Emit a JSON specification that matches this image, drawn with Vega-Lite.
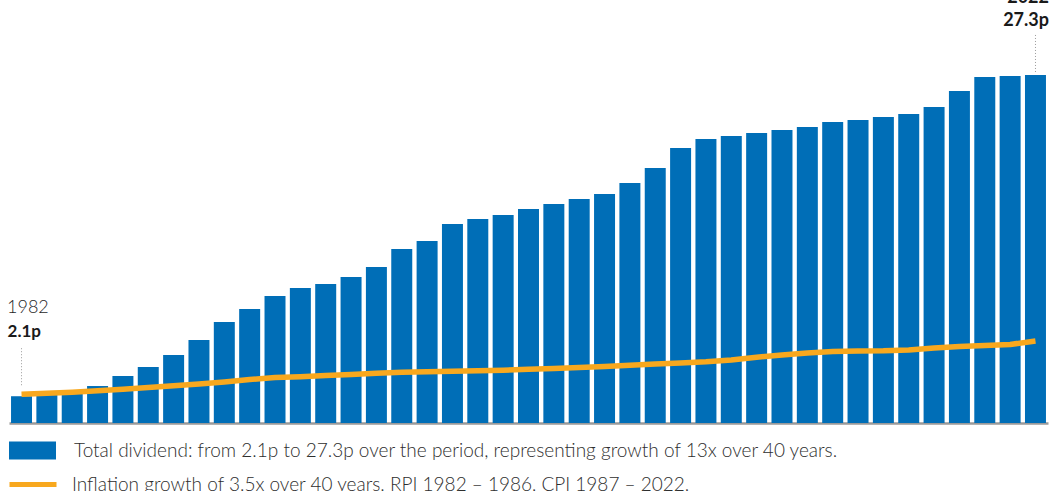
{
  "$schema": "https://vega.github.io/schema/vega-lite/v6.json",
  "autosize": {"type": "none"},
  "padding": {"left": 9, "right": 2, "top": 0, "bottom": 68},
  "width": 1039,
  "height": 423,
  "background": "white",
  "config": {"view": {"stroke": null}, "font": "Lato"},
  "data": {"values": [
    {"year": 1982, "dividend": 2.1, "inflation": 2.25},
    {"year": 1983, "dividend": 2.2, "inflation": 2.33},
    {"year": 1984, "dividend": 2.45, "inflation": 2.42},
    {"year": 1985, "dividend": 2.9, "inflation": 2.53},
    {"year": 1986, "dividend": 3.69, "inflation": 2.65},
    {"year": 1987, "dividend": 4.39, "inflation": 2.78},
    {"year": 1988, "dividend": 5.33, "inflation": 2.92},
    {"year": 1989, "dividend": 6.51, "inflation": 3.06},
    {"year": 1990, "dividend": 7.92, "inflation": 3.22},
    {"year": 1991, "dividend": 8.94, "inflation": 3.41},
    {"year": 1992, "dividend": 9.96, "inflation": 3.57},
    {"year": 1993, "dividend": 10.59, "inflation": 3.63},
    {"year": 1994, "dividend": 10.9, "inflation": 3.72},
    {"year": 1995, "dividend": 11.45, "inflation": 3.8},
    {"year": 1996, "dividend": 12.24, "inflation": 3.9},
    {"year": 1997, "dividend": 13.65, "inflation": 3.98},
    {"year": 1998, "dividend": 14.28, "inflation": 4.02},
    {"year": 1999, "dividend": 15.61, "inflation": 4.06},
    {"year": 2000, "dividend": 16.0, "inflation": 4.1},
    {"year": 2001, "dividend": 16.32, "inflation": 4.14},
    {"year": 2002, "dividend": 16.79, "inflation": 4.21},
    {"year": 2003, "dividend": 17.18, "inflation": 4.28},
    {"year": 2004, "dividend": 17.57, "inflation": 4.36},
    {"year": 2005, "dividend": 17.96, "inflation": 4.43},
    {"year": 2006, "dividend": 18.83, "inflation": 4.53},
    {"year": 2007, "dividend": 20.0, "inflation": 4.63},
    {"year": 2008, "dividend": 21.57, "inflation": 4.71},
    {"year": 2009, "dividend": 22.28, "inflation": 4.8},
    {"year": 2010, "dividend": 22.52, "inflation": 4.94},
    {"year": 2011, "dividend": 22.75, "inflation": 5.16},
    {"year": 2012, "dividend": 22.99, "inflation": 5.33},
    {"year": 2013, "dividend": 23.22, "inflation": 5.49},
    {"year": 2014, "dividend": 23.61, "inflation": 5.61},
    {"year": 2015, "dividend": 23.77, "inflation": 5.65},
    {"year": 2016, "dividend": 24.0, "inflation": 5.66},
    {"year": 2017, "dividend": 24.24, "inflation": 5.73},
    {"year": 2018, "dividend": 24.79, "inflation": 5.88},
    {"year": 2019, "dividend": 26.05, "inflation": 6.0},
    {"year": 2020, "dividend": 27.14, "inflation": 6.08},
    {"year": 2021, "dividend": 27.22, "inflation": 6.16},
    {"year": 2022, "dividend": 27.3, "inflation": 6.43}
  ]},
  "encoding": {
    "x": {
      "field": "year", "type": "ordinal",
      "scale": {"paddingInner": 0.172, "paddingOuter": 0.08},
      "axis": {"title": null, "labels": false, "ticks": false, "domain": true, "domainColor": "#9a9a9a", "domainWidth": 2.5, "grid": false}
    }
  },
  "layer": [
    {
      "mark": {"type": "bar"},
      "transform": [{"calculate": "'Total dividend: from 2.1p to 27.3p over the period, representing growth of 13x over 40 years.'", "as": "s1"}],
      "encoding": {
        "y": {"field": "dividend", "type": "quantitative", "scale": {"domain": [0, 33.18], "nice": false, "zero": true}, "axis": null},
        "fill": {
          "field": "s1", "type": "nominal",
          "scale": {"range": ["#006EB7"]},
          "legend": {
            "title": null, "orient": "none", "legendX": 0, "legendY": 427,
            "symbolType": "M-1,-0.383H1V0.383H-1Z", "symbolSize": 2209, "symbolStrokeWidth": 0, "symbolOpacity": 1,
            "labelFont": "Lato", "labelFontSize": 19, "labelFontWeight": 300, "labelColor": "#2e2e2e", "labelOffset": 18, "labelLimit": 1000, "padding": 0
          }
        }
      }
    },
    {
      "mark": {"type": "line", "strokeWidth": 5.5, "strokeCap": "butt", "strokeJoin": "round"},
      "transform": [{"calculate": "'Inflation growth of 3.5x over 40 years. RPI 1982 – 1986, CPI 1987 – 2022.'", "as": "s2"}],
      "encoding": {
        "y": {"field": "inflation", "type": "quantitative"},
        "stroke": {
          "field": "s2", "type": "nominal",
          "scale": {"range": ["#F8A81E"]},
          "legend": {
            "title": null, "orient": "none", "legendX": -2, "legendY": 458.5,
            "symbolType": "stroke", "symbolSize": 2209, "symbolStrokeWidth": 5,
            "labelFont": "Lato", "labelFontSize": 19, "labelFontWeight": 300, "labelColor": "#2e2e2e", "labelOffset": 13, "labelLimit": 1000, "padding": 0
          }
        }
      }
    },
    {
      "transform": [{"filter": "datum.year == 1982"}],
      "mark": {"type": "rule", "strokeDash": [1, 2], "color": "#9a9a9a", "strokeWidth": 1, "yOffset": -11, "y2Offset": -49},
      "encoding": {"y": {"field": "dividend", "type": "quantitative"}, "y2": {"field": "dividend"}}
    },
    {
      "transform": [{"filter": "datum.year == 2022"}],
      "mark": {"type": "rule", "strokeDash": [1, 2], "color": "#9a9a9a", "strokeWidth": 1, "yOffset": -3, "y2Offset": -42},
      "encoding": {"y": {"field": "dividend", "type": "quantitative"}, "y2": {"field": "dividend"}}
    },
    {
      "transform": [{"filter": "datum.year == 1982"}],
      "mark": {"type": "text", "align": "left", "baseline": "alphabetic", "dx": -14.5, "dy": -83, "font": "Lato", "fontSize": 18, "fontWeight": 300, "color": "#1f1f1f"},
      "encoding": {"y": {"field": "dividend", "type": "quantitative"}, "text": {"field": "year", "type": "nominal"}}
    },
    {
      "transform": [{"filter": "datum.year == 1982"}, {"calculate": "format(datum.dividend, '.1f') + 'p'", "as": "lab"}],
      "mark": {"type": "text", "align": "left", "baseline": "alphabetic", "dx": -14, "dy": -59, "font": "Lato", "fontSize": 17, "fontWeight": "bold", "color": "#1a1a1a"},
      "encoding": {"y": {"field": "dividend", "type": "quantitative"}, "text": {"field": "lab", "type": "nominal"}}
    },
    {
      "transform": [{"filter": "datum.year == 2022"}, {"calculate": "format(datum.dividend, '.1f') + 'p'", "as": "lab"}],
      "mark": {"type": "text", "align": "right", "baseline": "alphabetic", "dx": 13.5, "dy": -49, "font": "Lato", "fontSize": 18, "fontWeight": "bold", "color": "#1a1a1a"},
      "encoding": {"y": {"field": "dividend", "type": "quantitative"}, "text": {"field": "lab", "type": "nominal"}}
    },
    {
      "transform": [{"filter": "datum.year == 2022"}],
      "mark": {"type": "text", "align": "right", "baseline": "alphabetic", "dx": 13.5, "dy": -72, "font": "Lato", "fontSize": 18, "fontWeight": "bold", "color": "#1a1a1a"},
      "encoding": {"y": {"field": "dividend", "type": "quantitative"}, "text": {"field": "year", "type": "nominal"}}
    }
  ],
  "resolve": {"scale": {"y": "shared"}}
}
